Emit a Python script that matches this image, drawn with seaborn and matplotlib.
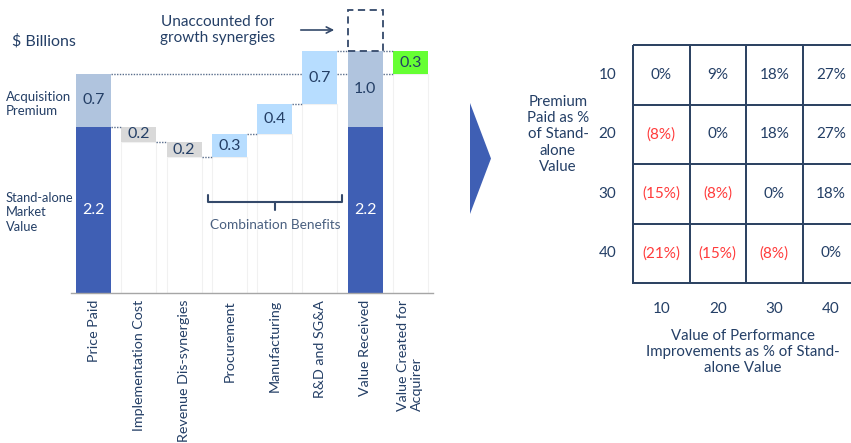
import numpy as np
import pandas as pd
import matplotlib
matplotlib.use("Agg")
import matplotlib.pyplot as plt
import seaborn as sns
from matplotlib.patches import Rectangle, Polygon, FancyArrowPatch
from matplotlib.colors import ListedColormap

# ---------------- data ----------------
categories = ["Price Paid", "Implementation Cost", "Revenue Dis-synergies",
              "Procurement", "Manufacturing", "R&D and SG&A",
              "Value Received", "Value Created for\nAcquirer"]
standalone_value = 2.2
acquisition_premium = 0.7
step_names = ["Implementation Cost", "Revenue Dis-synergies", "Procurement",
              "Manufacturing", "R&D and SG&A"]
step_deltas = [-0.2, -0.2, 0.3, 0.4, 0.7]
received_premium = 1.0
value_created = 0.3
unaccounted_synergies = 0.55

premium_pct = [10, 20, 30, 40]
improvement_pct = [10, 20, 30, 40]
matrix_values = [[0, 9, 18, 27],
                 [-8, 0, 18, 27],
                 [-15, -8, 0, 18],
                 [-21, -15, -8, 0]]

# ---------------- style ----------------
sns.set_style("white")
plt.rcParams["font.family"] = ["Lato", "DejaVu Sans"]

NAVY = "#243F66"
LINE = "#34496A"
DARK = "#3F5FB4"
PREM = "#B0C4DE"
GRAY = "#D9D9D9"
LBLUE = "#B7DDFF"
GREEN = "#66FF33"
RED = "#FF3B3B"

W, H = 851, 443
fig = plt.figure(figsize=(W / 100, H / 100), dpi=100)

# ---------------- waterfall ----------------
ax = fig.add_axes([71 / W, (H - 293) / H, 362 / W, 290.7 / H])
bw = 0.77
half = bw / 2

levels = [standalone_value]
for d in step_deltas:
    levels.append(round(levels[-1] + d, 3))
step_bottoms = [min(levels[i], levels[i + 1]) for i in range(len(step_deltas))]
step_heights = [abs(d) for d in step_deltas]
price_paid = standalone_value + acquisition_premium

seg_bottom = [standalone_value] + step_bottoms + [standalone_value, price_paid]
seg_height = [acquisition_premium] + step_heights + [received_premium, value_created]
seg_colors = [PREM] + [GRAY if d < 0 else LBLUE for d in step_deltas] + [PREM, GREEN]

# faint ghost bars under the floating segments
ghost_cats = step_names + [categories[7]]
ghost_vals = step_bottoms + [price_paid]
sns.barplot(x=ghost_cats, y=ghost_vals, order=categories, width=bw, color="white",
            saturation=1, edgecolor="#F1F1F1", linewidth=0.8, ax=ax)

# stand-alone value bars
sns.barplot(x=["Price Paid", "Value Received"], y=[standalone_value, standalone_value],
            order=categories, width=bw, color=DARK, saturation=1, linewidth=0, ax=ax)

n_before = len(ax.patches)
sns.barplot(x=categories, y=seg_height, order=categories, bottom=seg_bottom, width=bw,
            color=LBLUE, saturation=1, linewidth=0, ax=ax)
for p, c in zip(ax.patches[n_before:], seg_colors):
    p.set_facecolor(c)

for i, (b, h) in enumerate(zip(seg_bottom, seg_height)):
    ax.text(i, b + h / 2, f"{h:.1f}", ha="center", va="center", fontsize=11.5, color=NAVY)
for i in (0, 6):
    ax.text(i, standalone_value / 2, f"{standalone_value:.1f}", ha="center", va="center",
            fontsize=11.5, color="white")

# dotted connectors
dot = dict(color="#5A6E8C", lw=1.0, linestyle=(0, (1, 1)), zorder=1)
for i in range(len(levels) - 1):
    ax.plot([i + half, i + 1 - half], [levels[i], levels[i]], **dot)
ax.plot([5 + half, 6 - half], [levels[-1], levels[-1]], **dot)
ax.plot([6 + half, 7 - half], [levels[-1], levels[-1]], **dot)
ax.plot([0 + half, 5 - half], [price_paid, price_paid], **dot)
ax.plot([5 + half, 6 - half], [price_paid, price_paid], **dot)
ax.plot([6 + half, 7 - half], [price_paid, price_paid], **dot)

# dashed box for unaccounted synergies
ax.add_patch(Rectangle((6 - half, standalone_value + received_premium), bw, unaccounted_synergies,
                       fill=False, edgecolor=LINE, lw=1.3, linestyle=(0, (4, 2.5)),
                       clip_on=False, zorder=3))

ax.set_xlim(-0.5, 7.5)
ax.set_ylim(0, 3.85)
ax.set_xlabel("")
ax.set_ylabel("")
ax.set_yticks([])
for s in ("left", "right", "top"):
    ax.spines[s].set_visible(False)
ax.spines["bottom"].set_color("#A6A6A6")
ax.spines["bottom"].set_linewidth(1.0)
ax.set_xticks(range(len(categories)))
ax.set_xticklabels(categories, rotation=90, fontsize=10.3, color=NAVY, va="top", ha="center")
ax.get_xticklabels()[-1].set_multialignment("left")
ax.set_xticks(np.arange(-0.5, 8, 1), minor=True)
ax.tick_params(axis="x", which="major", length=0, pad=5)
ax.tick_params(axis="x", which="minor", length=4, color="#A6A6A6", width=1)
ax.patch.set_alpha(0)

# ---------------- matrix ----------------
hax = fig.add_axes([633 / W, (H - 283) / H, 226 / W, 238 / H])
mat = np.array(matrix_values)
annot = np.array([[f"{v}%" if v >= 0 else f"({-v}%)" for v in row] for row in matrix_values])
sns.heatmap(mat, ax=hax, cmap=ListedColormap(["white"]), cbar=False, annot=annot, fmt="",
            linewidths=1.1, linecolor="#2E4463", annot_kws={"fontsize": 11},
            xticklabels=improvement_pct, yticklabels=premium_pct)
hax.collections[0].set_clip_on(False)
for t in hax.texts:
    t.set_color(RED if t.get_text().startswith("(") else NAVY)
hax.tick_params(axis="both", length=0, labelsize=11, labelcolor=NAVY)
hax.tick_params(axis="x", pad=14)
hax.tick_params(axis="y", pad=12)
plt.setp(hax.get_yticklabels(), rotation=0)

# ---------------- overlay annotations ----------------
ov = fig.add_axes([0, 0, 1, 1], zorder=10)
ov.set_xlim(0, W)
ov.set_ylim(H, 0)
ov.axis("off")
ov.patch.set_alpha(0)

ov.text(12, 41, "$ Billions", ha="left", va="center", fontsize=11.5, color=NAVY)
ov.text(6, 104, "Acquisition\nPremium", ha="left", va="center", fontsize=9.5, color=NAVY,
        linespacing=1.2)
ov.text(6, 212, "Stand-alone\nMarket\nValue", ha="left", va="center", fontsize=9.3, color=NAVY,
        linespacing=1.25)
ov.text(218, 30, "Unaccounted for\ngrowth synergies", ha="center", va="center", fontsize=11,
        color=NAVY, linespacing=1.1)
ov.add_patch(FancyArrowPatch((298, 30), (337, 30), arrowstyle="->", mutation_scale=11,
                             lw=1.2, color=LINE))
ov.plot([208, 208, 342, 342], [195, 202, 202, 195], color=LINE, lw=1.5, solid_joinstyle="round")
ov.plot([275, 275], [202, 210], color=LINE, lw=1.5)
ov.text(275, 225, "Combination Benefits", ha="center", va="center", fontsize=9.8, color="#4A6080")

ov.add_patch(Polygon([(470, 103), (491, 158.5), (470, 214)], closed=True, color=DARK, lw=0))
ov.text(558, 134.5, "Premium\nPaid as %\nof Stand-\nalone\nValue", ha="center", va="center",
        fontsize=10.8, color=NAVY, linespacing=1.22)
ov.text(743, 352, "Value of Performance\nImprovements as % of Stand-\nalone Value", ha="center",
        va="center", fontsize=10.8, color=NAVY, linespacing=1.22)

fig.savefig("out.png", dpi=100)
